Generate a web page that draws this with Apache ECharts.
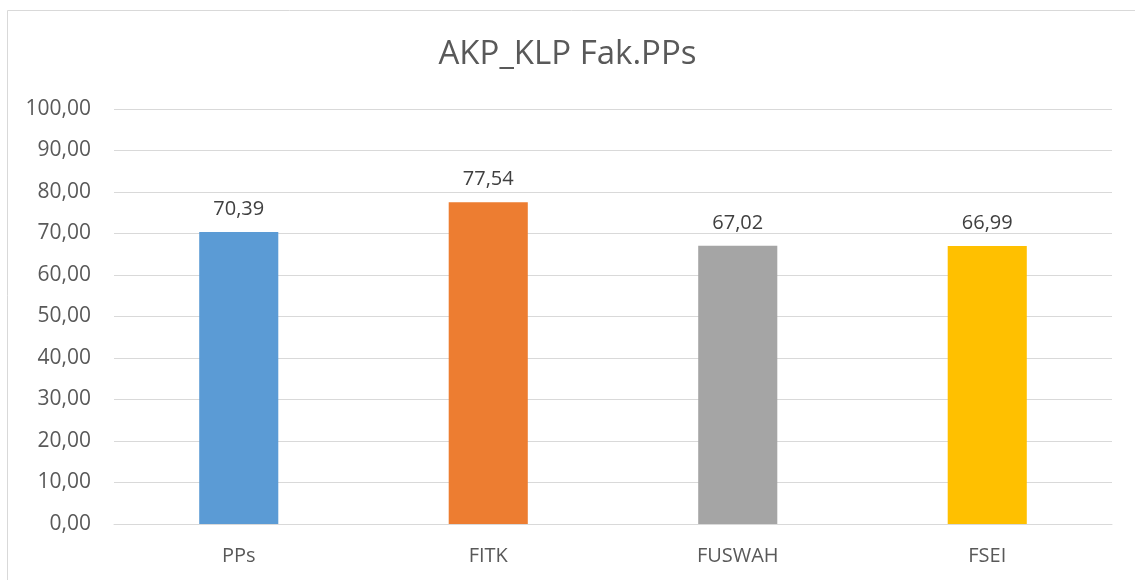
<!DOCTYPE html>
<html>
<head>
<meta charset="utf-8">
<script src="https://cdn.jsdelivr.net/npm/echarts@6/dist/echarts.min.js"></script>
<style>
  html, body { margin: 0; padding: 0; background: #fff; }
  #chart { width: 1135px; height: 580px; }
</style>
</head>
<body>
<div id="chart"></div>
<script>
const categories = ['PPs', 'FITK', 'FUSWAH', 'FSEI']
const values = [70.39, 77.54, 67.02, 66.99]
const barColors = ['#5B9BD5', '#ED7D31', '#A5A5A5', '#FFC000']

const fmt = v => Number(v).toFixed(2).replace('.', ',')
const FONT = '"Open Sans", "Liberation Sans", sans-serif'

const chart = echarts.init(document.getElementById('chart'), null, { renderer: 'canvas' })
chart.setOption({
  animation: false,
  textStyle: { fontFamily: FONT },
  graphic: [{
    type: 'rect',
    shape: { x: 7.5, y: 10.5, width: 1200, height: 700 },
    style: { fill: 'none', stroke: '#d9d9d9', lineWidth: 1 }
  }],
  title: {
    text: 'AKP_KLP Fak.PPs',
    left: 'center',
    top: 33,
    textStyle: { fontFamily: FONT, fontSize: 33, fontWeight: 'normal', color: '#595959' }
  },
  grid: { left: 114, right: 23, top: 109, bottom: 56 },
  xAxis: {
    type: 'category',
    data: categories,
    axisLine: { lineStyle: { color: '#d9d9d9', width: 1 } },
    axisTick: { show: false },
    axisLabel: { color: '#595959', fontSize: 20, margin: 22, fontFamily: FONT }
  },
  yAxis: {
    type: 'value',
    min: 0,
    max: 100,
    interval: 10,
    axisLine: { show: false },
    axisTick: { show: false },
    splitLine: { lineStyle: { color: '#d9d9d9', width: 1 } },
    axisLabel: { color: '#595959', fontSize: 21, margin: 23, fontFamily: FONT, formatter: fmt }
  },
  series: [{
    type: 'bar',
    data: values.map((v, i) => ({ value: v, itemStyle: { color: barColors[i] } })),
    barWidth: '31.7%',
    label: {
      show: true,
      position: 'top',
      distance: 13,
      color: '#404040',
      fontSize: 20,
      fontFamily: FONT,
      formatter: p => fmt(p.value)
    }
  }]
})
</script>
</body>
</html>
